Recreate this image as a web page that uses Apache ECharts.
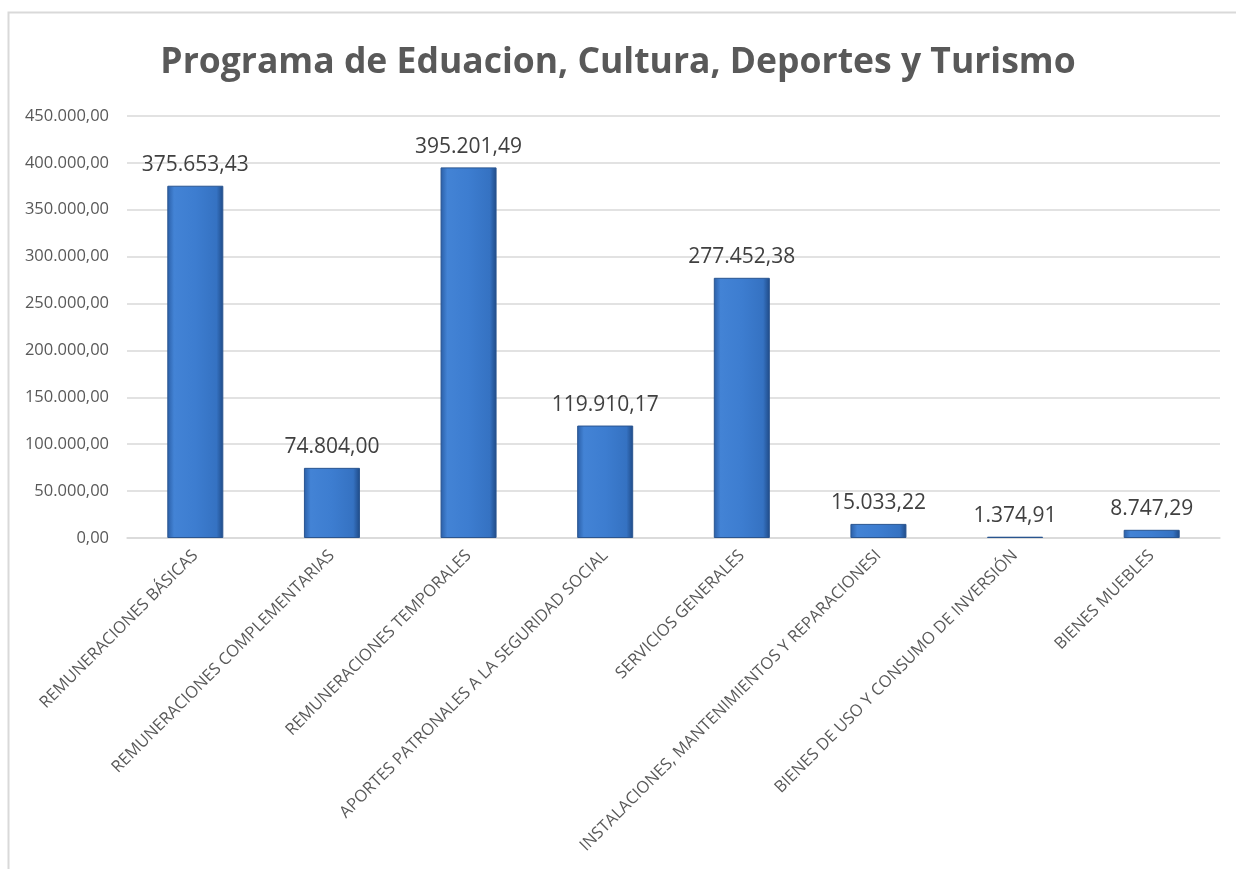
<!DOCTYPE html>
<html>
<head>
<meta charset="utf-8">
<script src="https://cdn.jsdelivr.net/npm/echarts@6/dist/echarts.min.js"></script>
<style>html,body{margin:0;padding:0;background:#fff}#c{width:1236px;height:869px}</style>
</head>
<body>
<div id="c"></div>
<script>
const titleText = "Programa de Eduacion, Cultura, Deportes y Turismo";
const categories = [
  "REMUNERACIONES BÁSICAS",
  "REMUNERACIONES COMPLEMENTARIAS",
  "REMUNERACIONES TEMPORALES",
  "APORTES PATRONALES A LA SEGURIDAD SOCIAL",
  "SERVICIOS GENERALES",
  "INSTALACIONES, MANTENIMIENTOS Y REPARACIONESI",
  "BIENES DE USO Y CONSUMO DE INVERSIÓN",
  "BIENES MUEBLES"
];
const values = [375653.43, 74804.00, 395201.49, 119910.17, 277452.38, 15033.22, 1374.91, 8747.29];
const yMin = 0, yMax = 450000, yStep = 50000;

function fmt(v) {
  const parts = v.toFixed(2).split('.');
  const intPart = parts[0].replace(/\B(?=(\d{3})+(?!\d))/g, '.');
  return intPart + ',' + parts[1];
}

const chart = echarts.init(document.getElementById('c'));
const barGrad = new echarts.graphic.LinearGradient(0, 0, 1, 0, [
  {offset: 0, color: '#2a5ea6'},
  {offset: 0.12, color: '#4383d5'},
  {offset: 0.5, color: '#3d7dd0'},
  {offset: 0.88, color: '#3572c2'},
  {offset: 1, color: '#1f4a86'}
]);
chart.setOption({
  animation: false,
  backgroundColor: '#fff',
  graphic: [{
    type: 'rect', left: 6, top: 10, z: -1,
    shape: {width: 1300, height: 1000},
    style: {fill: 'none', stroke: '#d9d9d9', lineWidth: 2}
  }],
  title: {
    text: titleText, left: 'center', top: 40,
    textStyle: {fontFamily: 'Open Sans', fontWeight: 'bold', fontSize: 35.5, color: '#595959'}
  },
  grid: {left: 127, right: 16, top: 116, bottom: 331},
  xAxis: {
    type: 'category', data: categories,
    axisLine: {lineStyle: {color: '#d9d9d9', width: 1.5}},
    axisTick: {show: false},
    axisLabel: {interval: 0, rotate: 45, fontFamily: 'Open Sans', fontSize: 16.5, color: '#595959', margin: 15}
  },
  yAxis: {
    type: 'value', min: yMin, max: yMax, interval: yStep,
    axisLine: {show: false}, axisTick: {show: false},
    axisLabel: {formatter: v => fmt(v), fontFamily: 'Open Sans', fontSize: 16.5, color: '#595959', margin: 18},
    splitLine: {lineStyle: {color: '#d9d9d9', width: 1.5}}
  },
  series: [{
    type: 'bar', data: values, barWidth: '41%',
    itemStyle: {color: barGrad, borderColor: '#2a5590', borderWidth: 1},
    label: {show: true, position: 'top', distance: 10, formatter: p => fmt(p.value),
      fontFamily: 'Open Sans', fontSize: 21, color: '#404040'}
  }]
});
</script>
</body>
</html>
